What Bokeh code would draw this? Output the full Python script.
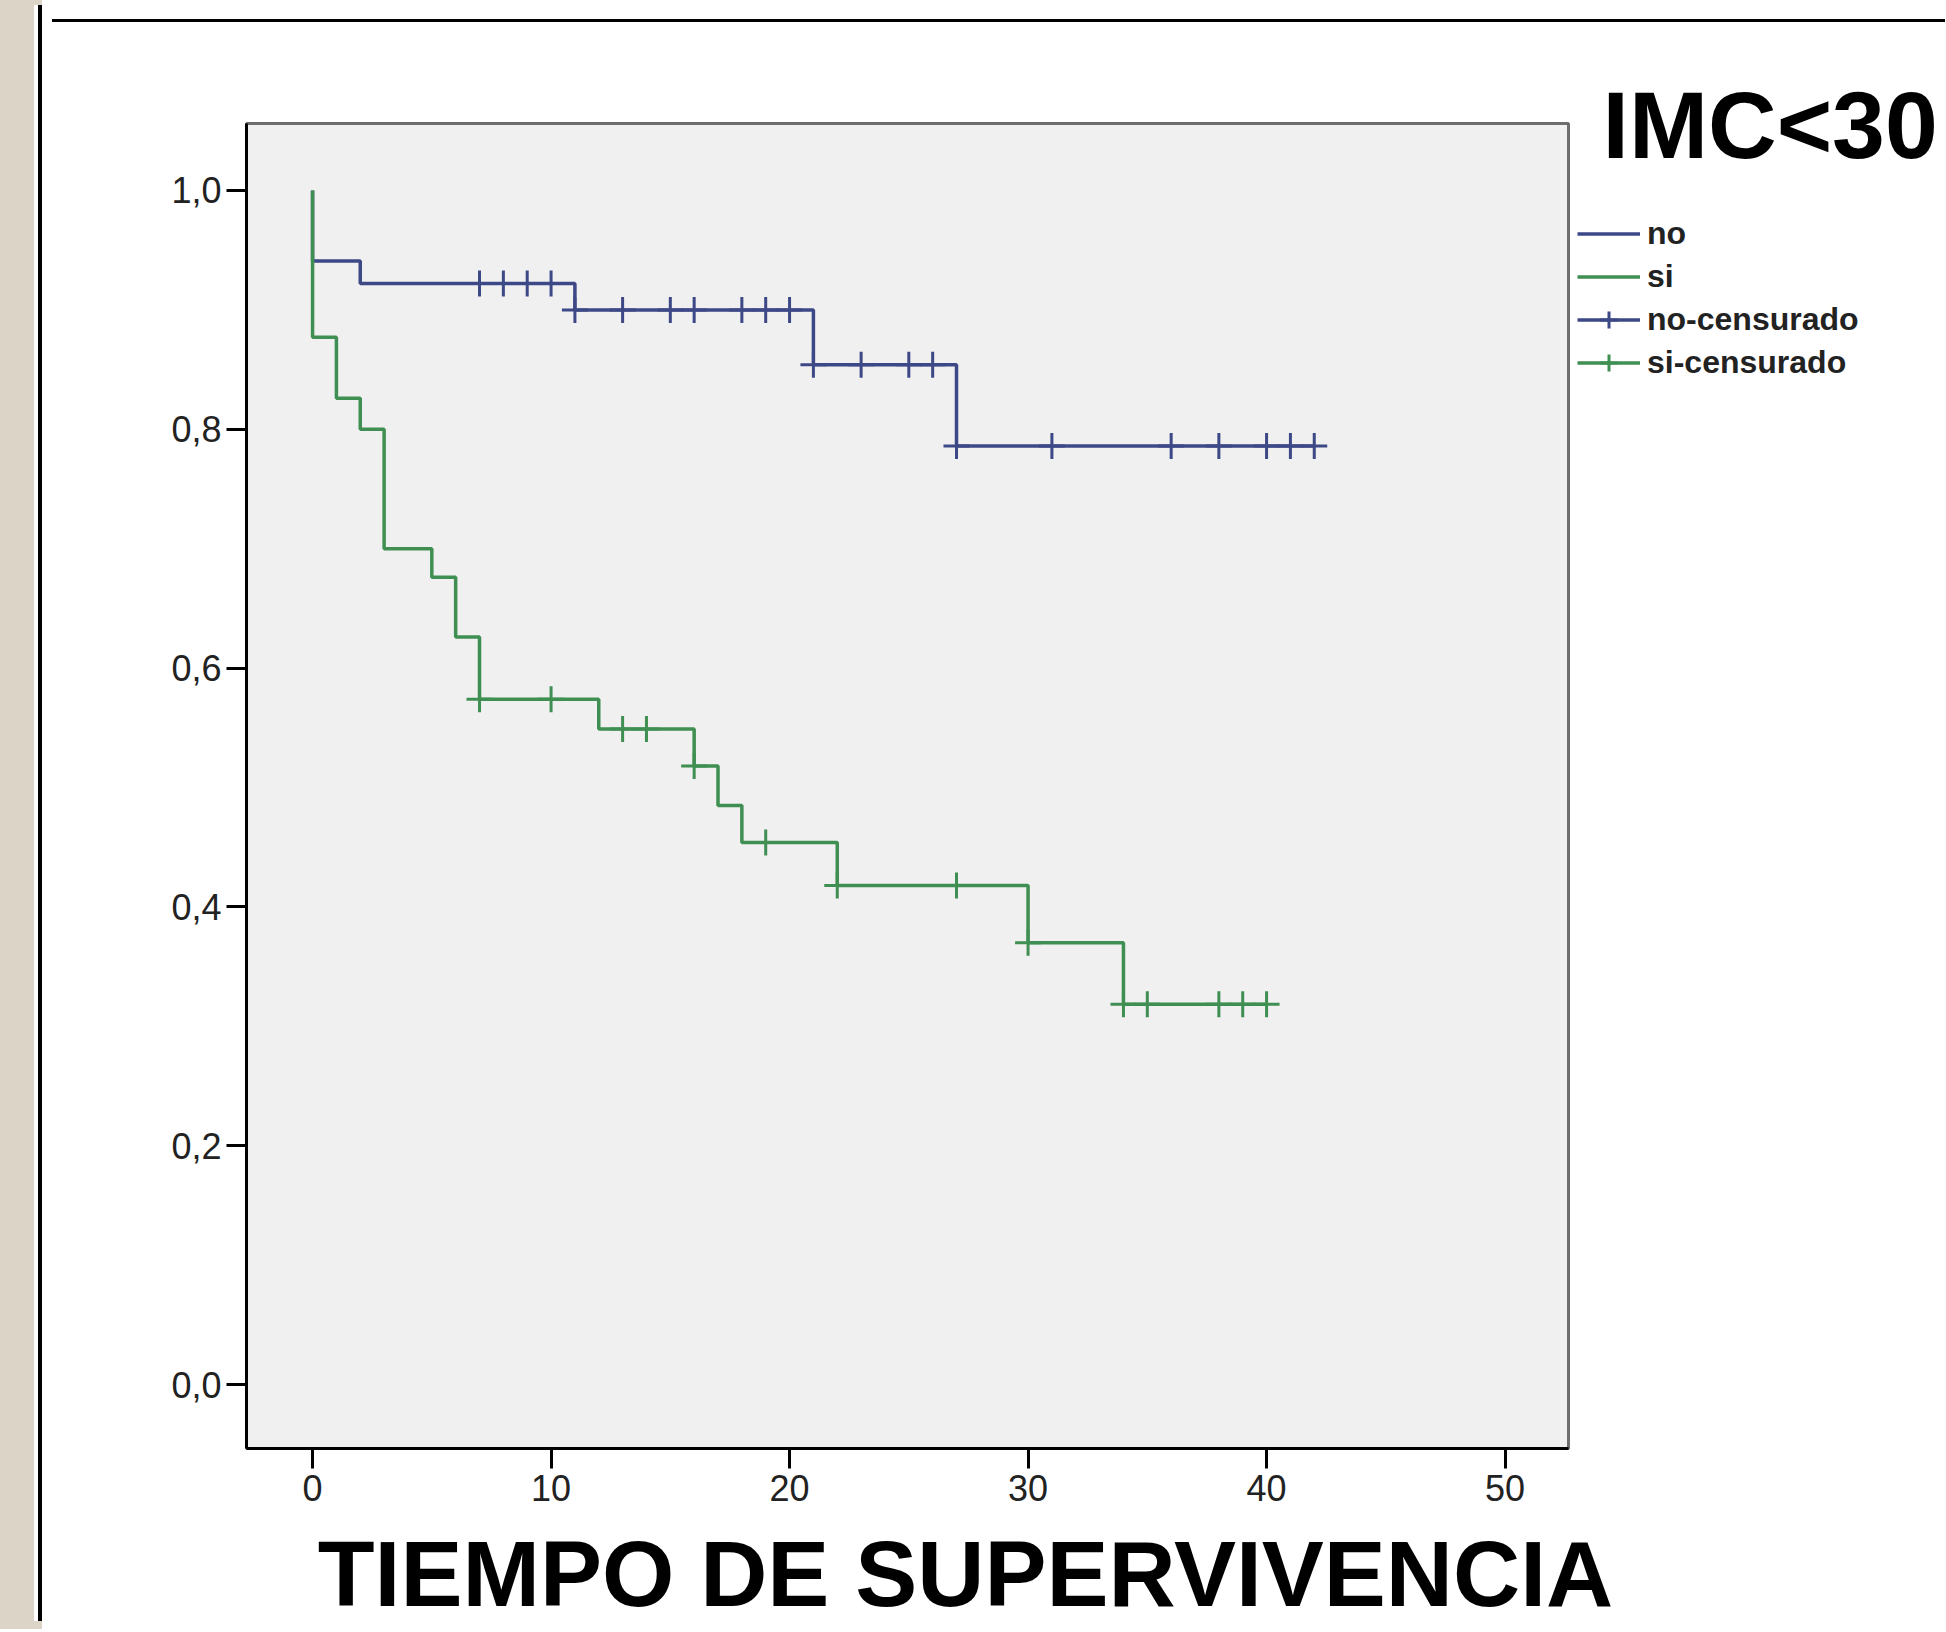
from bokeh.plotting import figure
from bokeh.models import (Range1d, FixedTicker, CustomJSTickFormatter, Label,
                          Legend, LegendItem, Div)
from bokeh.layouts import row, column
from bokeh.embed import file_html
from bokeh.resources import INLINE

# ---------------- data ----------------
# Group "no": Kaplan-Meier steps (time, survival)
no_t = [0, 0, 2, 11, 21, 27, 42]
no_s = [1.0, 0.941, 0.922, 0.900, 0.854, 0.786, 0.786]
# Group "no": censored observations
no_cens_t = [7, 8, 9, 10, 11, 13, 15, 16, 18, 19, 20, 21, 23, 25, 26,
             27, 31, 36, 38, 40, 41, 42]
no_cens_s = [0.922, 0.922, 0.922, 0.922,
             0.900, 0.900, 0.900, 0.900, 0.900, 0.900, 0.900,
             0.854, 0.854, 0.854, 0.854,
             0.786, 0.786, 0.786, 0.786, 0.786, 0.786, 0.786]
# Group "si": Kaplan-Meier steps
si_t = [0, 0, 1, 2, 3, 5, 6, 7, 12, 16, 17, 18, 22, 30, 34, 40]
si_s = [1.0, 0.877, 0.826, 0.800, 0.700, 0.676, 0.626, 0.574, 0.549, 0.518,
        0.485, 0.454, 0.418, 0.370, 0.3185, 0.3185]
# Group "si": censored observations
si_cens_t = [7, 10, 13, 14, 16, 19, 22, 27, 30, 34, 35, 38, 39, 40]
si_cens_s = [0.574, 0.574, 0.549, 0.549, 0.518, 0.454, 0.418, 0.418, 0.370,
             0.3185, 0.3185, 0.3185, 0.3185, 0.3185]

x_ticks = [0, 10, 20, 30, 40, 50]
y_ticks = [0.0, 0.2, 0.4, 0.6, 0.8, 1.0]

title_text = "IMC<30"
xlabel_text = "TIEMPO DE SUPERVIVENCIA"
legend_labels = ["no", "si", "no-censurado", "si-censurado"]

# ---------------- styles ----------------
BLUE = "#3D4886"
GREEN = "#3F8F52"
FONT = "Liberation Sans"
NAN = float("nan")

# ---------------- main plot ----------------
PH = 1493
p = figure(width=1525, height=PH, output_backend="svg", toolbar_location=None,
           title=None,
           x_range=Range1d(-2.77, 52.66), y_range=Range1d(-0.0536, 1.0561),
           min_border_left=199, min_border_right=4, min_border_top=96,
           min_border_bottom=72)
p.background_fill_color = "#F0F0F0"
p.border_fill_color = "white"
p.outline_line_color = "#6E6E6E"
p.outline_line_width = 3
p.grid.visible = False

for ax in (p.xaxis[0], p.yaxis[0]):
    ax.axis_line_color = "black"
    ax.axis_line_width = 3
    ax.major_tick_line_color = "black"
    ax.major_tick_line_width = 3
    ax.major_tick_out = 20
    ax.major_tick_in = 0
    ax.minor_tick_line_color = None
    ax.major_label_text_font = FONT
    ax.major_label_text_font_size = "36px"
    ax.major_label_text_color = "#222222"

p.xaxis.ticker = FixedTicker(ticks=x_ticks)
p.yaxis.ticker = FixedTicker(ticks=y_ticks)
p.xaxis.major_label_standoff = 6
p.yaxis.major_label_standoff = 5
p.yaxis.formatter = CustomJSTickFormatter(
    code="return tick.toFixed(1).replace('.', ',');")

p.step(no_t, no_s, mode="after", line_color=BLUE, line_width=3.5)
p.step(si_t, si_s, mode="after", line_color=GREEN, line_width=3.5)
p.scatter(no_cens_t, no_cens_s, marker="cross", size=26,
          line_color=BLUE, line_width=3)
p.scatter(si_cens_t, si_cens_s, marker="cross", size=26,
          line_color=GREEN, line_width=3)

# ---------------- right panel: title + legend ----------------
QW, QH = 368, PH
q = figure(width=QW, height=QH, output_backend="svg", toolbar_location=None,
           title=None,
           x_range=Range1d(0, QW), y_range=Range1d(0, QH),
           x_axis_type=None, y_axis_type=None, min_border=0)
q.outline_line_color = None
q.background_fill_color = "white"
q.border_fill_color = "white"

# legend-only renderers (a single NaN point: nothing is drawn in the panel)
l_no = q.line([NAN], [NAN], line_color=BLUE, line_width=3.5)
l_si = q.line([NAN], [NAN], line_color=GREEN, line_width=3.5)
c_no = q.scatter([NAN], [NAN], marker="cross", size=26, line_color=BLUE,
                 line_width=3)
c_si = q.scatter([NAN], [NAN], marker="cross", size=26, line_color=GREEN,
                 line_width=3)

legend = Legend(items=[
    LegendItem(label=legend_labels[0], renderers=[l_no]),
    LegendItem(label=legend_labels[1], renderers=[l_si]),
    LegendItem(label=legend_labels[2], renderers=[l_no, c_no]),
    LegendItem(label=legend_labels[3], renderers=[l_si, c_si]),
], location=(5, QH - 357))
legend.padding = 0
legend.margin = 0
legend.spacing = 0
legend.glyph_width = 63
legend.glyph_height = 43
legend.label_height = 43
legend.label_standoff = 7
legend.label_text_font = FONT
legend.label_text_font_size = "32px"
legend.label_text_font_style = "bold"
legend.label_text_color = "#222222"
legend.border_line_color = None
legend.background_fill_alpha = 0
q.add_layout(legend, "center")

q.add_layout(Label(x=30, y=QH - 97, text=title_text, text_font=FONT,
                   text_font_size="95px", text_font_style="bold",
                   text_color="black", text_baseline="middle",
                   text_align="left"))

# ---------------- bottom panel: axis title ----------------
BW, BH = 1893, 106
b = figure(width=BW, height=BH, output_backend="svg", toolbar_location=None,
           title=None,
           x_range=Range1d(0, BW), y_range=Range1d(0, BH),
           x_axis_type=None, y_axis_type=None, min_border=0)
b.outline_line_color = None
b.background_fill_color = "white"
b.border_fill_color = "white"
b.add_layout(Label(x=918, y=BH / 2, text=xlabel_text, text_font=FONT,
                   text_font_size="93px", text_font_style="bold",
                   text_color="black", text_baseline="middle",
                   text_align="center"))

# ---------------- page decorations ----------------
strip = Div(text="", width=37, height=1616, styles={
    "background": "linear-gradient(to right, #DDD4C8 0px, #DDD4C8 29px, "
                  "#ffffff 29px, #ffffff 33px, #000000 33px, #000000 37px)",
    "box-shadow": "-8px 0px 0px 8px #DDD4C8"})
topbar = Div(text="", width=1893, height=17, styles={
    "background": "linear-gradient(to bottom, #ffffff 0px, #ffffff 14px, "
                  "#000000 14px, #000000 17px)"})

layout = row(strip, column(topbar, row(p, column(q)), b))

with open("out.html", "w") as f:
    f.write(file_html(layout, INLINE))
